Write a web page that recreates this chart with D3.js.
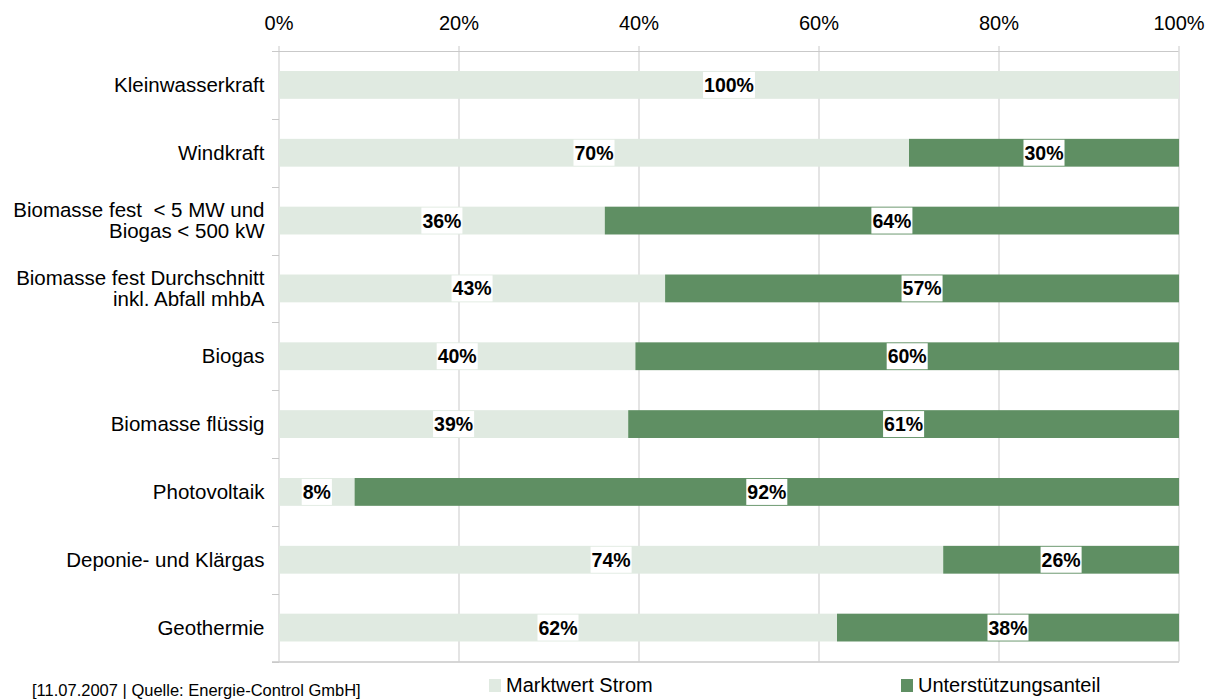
<!DOCTYPE html>
<html>
<head>
<meta charset="utf-8">
<script src="https://cdn.jsdelivr.net/npm/d3@7"></script>
<style>
  html, body { margin: 0; padding: 0; background: #fff; }
  svg { display: block; }
  text { font-family: "Liberation Sans", Arial, sans-serif; fill: #000; }
</style>
</head>
<body>
<svg id="chart" width="1205" height="700"></svg>
<script>
const categories = [
  "Kleinwasserkraft",
  "Windkraft",
  "Biomasse fest  < 5 MW und|Biogas < 500 kW",
  "Biomasse fest Durchschnitt|inkl. Abfall mhbA",
  "Biogas",
  "Biomasse flüssig",
  "Photovoltaik",
  "Deponie- und Klärgas",
  "Geothermie"
];
const marktwert = [100, 70, 36.2, 42.9, 39.6, 38.8, 8.4, 73.8, 62.0];
const unterstuetzung = [0, 30, 63.8, 57.1, 60.4, 61.2, 91.6, 26.2, 38.0];
const seriesNames = ["Marktwert Strom", "Unterstützungsanteil"];
const tickValues = [0, 20, 40, 60, 80, 100];
const footer = "[11.07.2007 | Quelle: Energie-Control GmbH]";

const colors = ["#e0eae1", "#5f8f63"];
const gridColor = "#c9c9c9";

const svg = d3.select("#chart");
const margin = {left: 278.5, top: 51};
const W = 900, H = 610.5;
const g = svg.append("g").attr("transform", `translate(${margin.left},${margin.top})`);

const x = d3.scaleLinear().domain([0, 100]).range([0, W]);
const y = d3.scaleBand().domain(categories).range([0, H]).paddingInner(0.59).paddingOuter(0.295);

// gridlines
g.selectAll("line.grid").data(tickValues.slice(1)).join("line")
  .attr("class", "grid")
  .attr("x1", d => Math.round(x(d)) + 0.5).attr("x2", d => Math.round(x(d)) + 0.5)
  .attr("y1", 0).attr("y2", H)
  .attr("stroke", gridColor).attr("stroke-width", 1);

// top axis
const topAxis = g.append("g").call(
  d3.axisTop(x).tickValues(tickValues).tickFormat(d => d + "%").tickSize(5).tickPadding(16).offset(0.5)
);
topAxis.select(".domain").remove();
topAxis.selectAll(".tick line").attr("stroke", gridColor);
topAxis.selectAll(".tick text").attr("font-size", "20px").attr("font-family", "Liberation Sans, Arial, sans-serif").attr("fill", "#000");
g.append("line").attr("x1", -6.5).attr("x2", W).attr("y1", 0.5).attr("y2", 0.5).attr("stroke", gridColor);

// bottom line
g.append("line").attr("x1", -6.5).attr("x2", W + 0.5).attr("y1", H + 0.5).attr("y2", H + 0.5).attr("stroke", gridColor).attr("stroke-width", 1.5);

// left axis line
g.append("line").attr("x1", 0.5).attr("x2", 0.5).attr("y1", 0).attr("y2", H).attr("stroke", gridColor);

// category boundary ticks
const bounds = d3.range(categories.length + 1).map(i => i * (H / categories.length));
g.selectAll("line.ctick").data(bounds).join("line")
  .attr("class", "ctick")
  .attr("x1", -6.5).attr("x2", 0.5)
  .attr("y1", d => Math.round(d) + 0.5).attr("y2", d => Math.round(d) + 0.5)
  .attr("stroke", gridColor);

// category labels
const catG = g.append("g");
categories.forEach(c => {
  const lines = c.split("|");
  const cy = y(c) + y.bandwidth() / 2;
  const lh = 21;
  const t = catG.append("text")
    .attr("x", -14)
    .attr("text-anchor", "end")
    .attr("font-size", "20.5px")
    .style("white-space", "pre");
  lines.forEach((ln, i) => {
    t.append("tspan")
      .attr("x", -14)
      .attr("y", cy + 7 + (i - (lines.length - 1) / 2) * lh)
      .text(ln);
  });
});

// bars
const data = categories.map((c, i) => ({c, vals: [marktwert[i], unterstuetzung[i]]}));
const segs = [];
data.forEach(d => {
  let acc = 0;
  d.vals.forEach((v, k) => {
    segs.push({c: d.c, k, x0: acc, x1: acc + v, v});
    acc += v;
  });
});
g.selectAll("rect.bar").data(segs.filter(s => s.v > 0)).join("rect")
  .attr("class", "bar")
  .attr("x", s => x(s.x0) + 0.5)
  .attr("width", s => x(s.x1) - x(s.x0))
  .attr("y", s => y(s.c))
  .attr("height", y.bandwidth())
  .attr("fill", s => colors[s.k]);

// value labels with white boxes
const lab = g.selectAll("g.lab").data(segs.filter(s => s.v > 0)).join("g").attr("class", "lab");
lab.each(function(s) {
  const gg = d3.select(this);
  const cx = x((s.x0 + s.x1) / 2) + 0.5;
  const cy = y(s.c) + y.bandwidth() / 2;
  const t = gg.append("text")
    .attr("x", cx).attr("y", cy + 7)
    .attr("text-anchor", "middle")
    .attr("font-size", "19.5px").attr("font-weight", "bold")
    .text(Math.round(s.v) + "%");
  const bb = t.node().getBBox();
  gg.insert("rect", "text")
    .attr("x", bb.x - 1).attr("width", bb.width + 2)
    .attr("y", cy - 13).attr("height", 26)
    .attr("fill", "#fff");
});

// legend
const legend = svg.append("g");
const legX = [489, 901];
seriesNames.forEach((n, i) => {
  legend.append("rect").attr("x", legX[i]).attr("y", 679).attr("width", 12).attr("height", 13).attr("fill", colors[i]);
  legend.append("text").attr("x", legX[i] + 17).attr("y", 692).attr("font-size", "20px").text(n);
});

// footer
svg.append("text").attr("x", 32).attr("y", 696).attr("font-size", "16.5px").text(footer);
</script>
</body>
</html>
